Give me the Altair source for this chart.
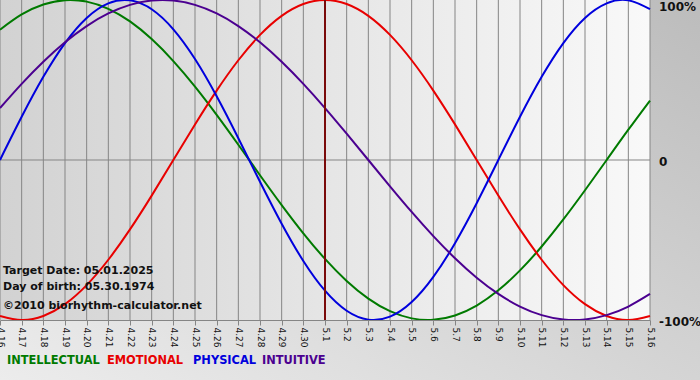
import altair as alt
import pandas as pd

# ---- data -------------------------------------------------------------
dates = ["4.16", "4.17", "4.18", "4.19", "4.20", "4.21", "4.22", "4.23",
         "4.24", "4.25", "4.26", "4.27", "4.28", "4.29", "4.30",
         "5.1", "5.2", "5.3", "5.4", "5.5", "5.6", "5.7", "5.8", "5.9",
         "5.10", "5.11", "5.12", "5.13", "5.14", "5.15", "5.16"]

intellectual = [0.8146, 0.9096, 0.9718, 0.9989, 0.9898, 0.9450, 0.8660, 0.7557,
                0.6182, 0.4582, 0.2817, 0.0951, -0.0951, -0.2817, -0.4582,
                -0.6182, -0.7557, -0.8660, -0.9450, -0.9898, -0.9989, -0.9718,
                -0.9096, -0.8146, -0.6901, -0.5406, -0.3717, -0.1893, 0.0,
                0.1893, 0.3717]

emotional = [-0.9749, -1.0, -0.9749, -0.9010, -0.7818, -0.6235, -0.4339, -0.2225,
             0.0, 0.2225, 0.4339, 0.6235, 0.7818, 0.9010, 0.9749,
             1.0, 0.9749, 0.9010, 0.7818, 0.6235, 0.4339, 0.2225, 0.0,
             -0.2225, -0.4339, -0.6235, -0.7818, -0.9010, -0.9749, -1.0, -0.9749]

physical = [0.0, 0.2698, 0.5196, 0.7308, 0.8879, 0.9791, 0.9977, 0.9423,
            0.8170, 0.6311, 0.3984, 0.1362, -0.1362, -0.3984, -0.6311,
            -0.8170, -0.9423, -0.9977, -0.9791, -0.8879, -0.7308, -0.5196,
            -0.2698, 0.0, 0.2698, 0.5196, 0.7308, 0.8879, 0.9791, 0.9977, 0.9423]

intuitive = [0.3247, 0.4759, 0.6142, 0.7357, 0.8372, 0.9158, 0.9694, 0.9966,
             0.9966, 0.9694, 0.9158, 0.8372, 0.7357, 0.6142, 0.4759,
             0.3247, 0.1646, 0.0, -0.1646, -0.3247, -0.4759, -0.6142,
             -0.7357, -0.8372, -0.9158, -0.9694, -0.9966, -0.9966, -0.9694,
             -0.9158, -0.8372]

series_names = ["INTELLECTUAL", "EMOTIONAL", "PHYSICAL", "INTUITIVE"]
series_colors = ["#007a00", "#e80000", "#0000dd", "#4b0090"]
series_values = [intellectual, emotional, physical, intuitive]

target_date = "5.1"
info_lines = ["Target Date: 05.01.2025", "Day of birth: 05.30.1974",
              "\u00a92010 biorhythm-calculator.net"]

y_top_label = ["100%"]
y_top_value = [1]
y_other_labels = ["0", "-100%"]
y_other_values = [0, -1]

# ---- tables -----------------------------------------------------------
rows = []
for name, vals in zip(series_names, series_values):
    for d, v in zip(dates, vals):
        rows.append({"date": d, "value": v, "series": name})
lines_df = pd.DataFrame(rows)
dates_df = pd.DataFrame({"date": dates})
one = pd.DataFrame({"a": [0]})

W, H = 650, 320
FONT = "DejaVu Sans"
GRID = "#858585"

xscale = alt.Scale(type="point", domain=dates, padding=0)
yscale = alt.Scale(domain=[-1, 1], nice=False)
xaxis = alt.Axis(title=None, labelAngle=90, labelAlign="left", labelBaseline="middle",
                 labelFontSize=9, labelFont=FONT, labelColor="#111111",
                 tickSize=5, tickColor=GRID, domainColor=GRID, grid=False,
                 labelPadding=2, labelOverlap=False, labelFlush=False,
                 labelBound=False, zindex=1)

outer_bg = alt.Chart(one).mark_rect(
    color=alt.LinearGradient(gradient="linear",
                             stops=[alt.GradientStop(color="#ececec", offset=0),
                                    alt.GradientStop(color="#bcbcbc", offset=1)],
                             x1=0, y1=1, x2=1, y2=0)
).encode(x=alt.value(0), x2=alt.value(700), y=alt.value(0), y2=alt.value(380))

plot_bg = alt.Chart(one).mark_rect(
    color=alt.LinearGradient(gradient="linear",
                             stops=[alt.GradientStop(color="#d2d2d2", offset=0),
                                    alt.GradientStop(color="#f9f9f9", offset=1)],
                             x1=0, y1=0, x2=1, y2=0)
).encode(x=alt.value(0), x2=alt.value(W), y=alt.value(0), y2=alt.value(H))

vgrid = alt.Chart(dates_df).mark_rule(color=GRID, strokeWidth=1).encode(
    x=alt.X("date:N", scale=xscale, axis=xaxis),
    y=alt.value(0), y2=alt.value(H))

zero_line = alt.Chart(one).mark_rule(color=GRID, strokeWidth=1).encode(
    y=alt.Y("z:Q", scale=yscale, axis=None), x=alt.value(0), x2=alt.value(W)
).transform_calculate(z="0")

lines = alt.Chart(lines_df).mark_line(strokeWidth=2, interpolate="natural").encode(
    x=alt.X("date:N", scale=xscale, axis=xaxis, sort=dates),
    y=alt.Y("value:Q", scale=yscale, axis=None),
    color=alt.Color("series:N", scale=alt.Scale(domain=series_names, range=series_colors),
                    legend=None),
    detail="series:N")

target_rule = alt.Chart(pd.DataFrame({"date": [target_date]})).mark_rule(
    color="#7a0a0a", strokeWidth=2).encode(
    x=alt.X("date:N", scale=xscale, axis=xaxis),
    y=alt.value(0), y2=alt.value(H))

info_layers = []
for txt, yy in zip(info_lines, [271, 287, 306]):
    info_layers.append(alt.Chart(pd.DataFrame({"t": [txt]})).mark_text(
        font=FONT, fontSize=11, fontWeight="bold", color="#111111",
        align="left", baseline="middle").encode(
        text="t:N", x=alt.value(3), y=alt.value(yy)))

ytop = alt.Chart(pd.DataFrame({"lab": y_top_label, "v": y_top_value})).mark_text(
    font=FONT, fontSize=12, fontWeight="bold", color="#111111",
    align="left", baseline="middle", dy=7).encode(
    text="lab:N", x=alt.value(W + 9), y=alt.Y("v:Q", scale=yscale, axis=None))

yother = alt.Chart(pd.DataFrame({"lab": y_other_labels, "v": y_other_values})).mark_text(
    font=FONT, fontSize=12, fontWeight="bold", color="#111111",
    align="left", baseline="middle", dy=2).encode(
    text="lab:N", x=alt.value(W + 9), y=alt.Y("v:Q", scale=yscale, axis=None))

legend_layers = []
for name, col, xx in zip(series_names, series_colors, [7, 107, 193, 262]):
    legend_layers.append(alt.Chart(pd.DataFrame({"t": [name]})).mark_text(
        font=FONT, fontSize=11.4, fontWeight="bold", color=col,
        align="left", baseline="middle").encode(
        text="t:N", x=alt.value(xx), y=alt.value(361)))

chart = alt.layer(
    outer_bg, plot_bg, vgrid, zero_line, lines, target_rule,
    *info_layers, ytop, yother, *legend_layers
).properties(
    width=W, height=H,
    autosize=alt.AutoSizeParams(type="none"),
    padding={"left": 0, "top": 0, "right": 50, "bottom": 60},
    background="#d0d0d0"
).configure_view(stroke=None)

chart.save("out.html", embed_options={"renderer": "svg", "actions": False})
